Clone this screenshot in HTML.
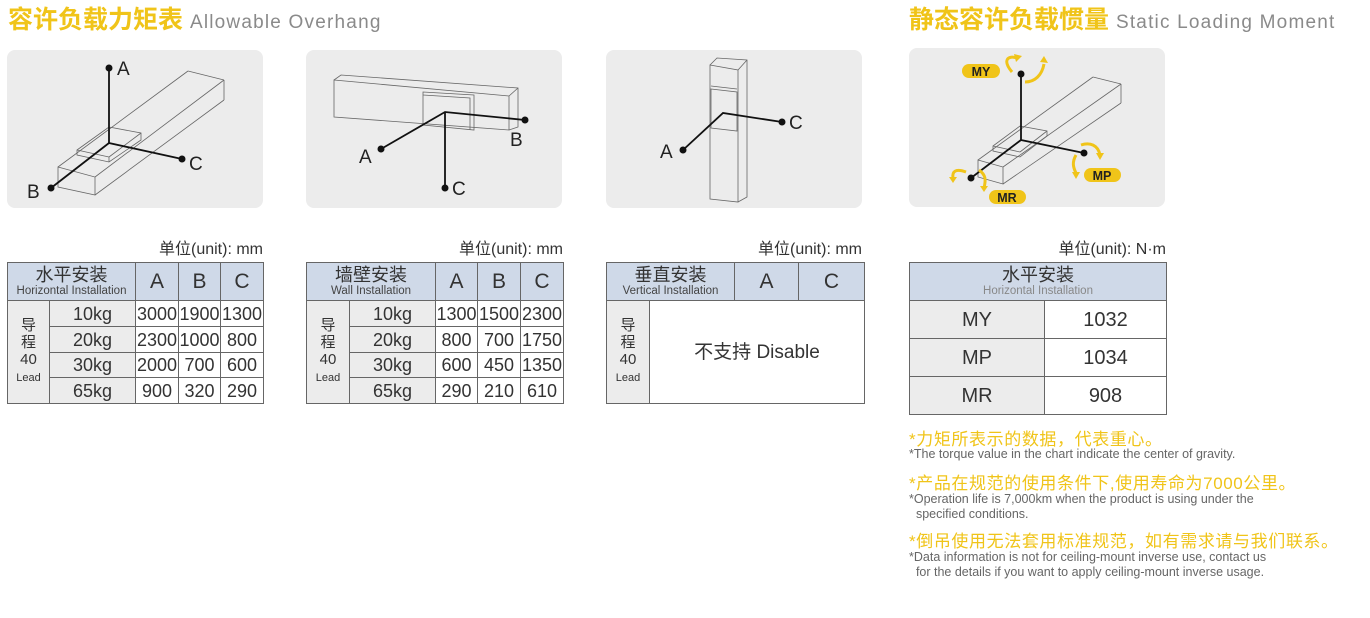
<!DOCTYPE html>
<html><head><meta charset="utf-8"><style>
body{margin:0;width:1370px;height:618px;background:#fff;position:relative;overflow:hidden;font-family:"Liberation Sans","Noto Sans CJK SC",sans-serif;color:#333}
.a{position:absolute;white-space:nowrap}
.t1{color:#f0c419;font-size:25px;font-weight:bold;top:0px}
.t2{color:#8a8a8a;font-size:19px;letter-spacing:1.2px}
.panel{position:absolute;background:#ececec;border-radius:8px}
table{position:absolute;border-collapse:collapse;table-layout:fixed}
td{border:1px solid #666;text-align:center;padding:0;font-size:18px;color:#333;line-height:1}
.h{background:#cfd9e8}
.g{background:#ececec}
.cn{font-size:18px;line-height:20px}
.en{font-size:11.5px;line-height:13px;color:#444}
.unit{font-size:16px;top:235px}
.y{color:#f0c419;font-size:17px;letter-spacing:0.6px}
.s{color:#666;font-size:12.5px;line-height:15px}
</style></head><body>
<div class="a t1" style="left:8px">容许负载力矩表 <span class="t2" style="font-weight:normal">Allowable Overhang</span></div>
<div class="a t1" style="left:909px">静态容许负载惯量 <span class="t2" style="font-weight:normal">Static Loading Moment</span></div>

<div class="panel" style="left:7px;top:50px;width:256px;height:158px"></div>
<div class="panel" style="left:306px;top:50px;width:256px;height:158px"></div>
<div class="panel" style="left:606px;top:50px;width:256px;height:158px"></div>
<div class="panel" style="left:909px;top:48px;width:256px;height:159px"></div>

<svg class="a" style="left:0;top:0" width="1370" height="230" viewBox="0 0 1370 230">
<g fill="none" stroke="#666" stroke-width="0.8">
<polygon points="58,167 95,177 95,195 58,187"/>
<line x1="58" y1="167" x2="188" y2="71"/><line x1="95" y1="177" x2="224" y2="80"/><line x1="95" y1="195" x2="224" y2="100"/>
<line x1="188" y1="71" x2="224" y2="80"/><line x1="224" y1="80" x2="224" y2="100"/>
<polygon points="77,150 109,127 141,133 141,140 109,162 77,155"/><line x1="77" y1="150" x2="109" y2="157"/><line x1="109" y1="157" x2="141" y2="133"/><line x1="109" y1="157" x2="109" y2="162"/>
<polygon points="334,80 509,96 509,130 334,117"/>
<polyline points="334,80 341,75 518,88 518,127 509,130"/><line x1="509" y1="96" x2="518" y2="88"/>
<polygon points="423,92 474,95 474,130 423,125"/><polyline points="423,95 470,98 470,130"/>
<polygon points="710,65 738,70 738,202 710,199"/>
<polyline points="710,65 717,58 747,60 747,197 738,202"/><line x1="738" y1="70" x2="747" y2="60"/>
<polygon points="711,89 737,92 737,131 711,128"/><line x1="711" y1="86" x2="737" y2="89"/>
<polygon points="978,160 1003,167 1003,184 978,177"/>
<line x1="978" y1="160" x2="1093" y2="77"/><line x1="1003" y1="167" x2="1121" y2="84"/><line x1="1003" y1="184" x2="1121" y2="103"/>
<line x1="1093" y1="77" x2="1121" y2="84"/><line x1="1121" y1="84" x2="1121" y2="103"/>
<polygon points="993,146 1020,126 1047,131 1047,136 1020,157 993,151"/><line x1="993" y1="146" x2="1020" y2="152"/><line x1="1020" y1="152" x2="1047" y2="131"/>
</g>
<g stroke="#111" stroke-width="1.8" fill="none">
<polyline points="109,68 109,143 182,159"/><line x1="109" y1="143" x2="51" y2="188"/>
<polyline points="381,149 445,112 525,120"/><line x1="445" y1="112" x2="445" y2="188"/>
<polyline points="683,150 723,113 782,122"/>
<polyline points="1021,74 1021,140 1084,153"/><line x1="1021" y1="140" x2="971" y2="178"/>
</g>
<g fill="#111">
<circle cx="109" cy="68" r="3.5"/><circle cx="182" cy="159" r="3.5"/><circle cx="51" cy="188" r="3.5"/>
<circle cx="381" cy="149" r="3.5"/><circle cx="525" cy="120" r="3.5"/><circle cx="445" cy="188" r="3.5"/>
<circle cx="683" cy="150" r="3.5"/><circle cx="782" cy="122" r="3.5"/>
<circle cx="1021" cy="74" r="3.5"/><circle cx="1084" cy="153" r="3.5"/><circle cx="971" cy="178" r="3.5"/>
</g>
<g font-family="Liberation Sans,sans-serif" font-size="19" fill="#222">
<text x="117" y="75">A</text><text x="189" y="170">C</text><text x="27" y="198">B</text>
<text x="359" y="163">A</text><text x="510" y="146">B</text><text x="452" y="195">C</text>
<text x="660" y="158">A</text><text x="789" y="129">C</text>
</g>
<g stroke="#f0c419" stroke-width="3" fill="none">
<path d="M1012,72 C1002,60 1008,55 1017,58"/><path d="M1025,82 C1035,82 1042,75 1044,64"/>
<path d="M1081,145 C1090,142 1098,145 1100,155"/><path d="M1076,155 C1072,162 1073,167 1076,173"/>
<path d="M966,172 C955,168 952,172 953,178"/><path d="M979,170 C986,175 986,180 984,188"/>
</g>
<g fill="#f0c419">
<polygon points="1014,54 1022,56 1016,62"/><polygon points="1040,62 1048,63 1044,56"/>
<polygon points="1096,153 1104,153 1100,160"/><polygon points="1072,172 1080,172 1076,179"/>
<polygon points="949,177 957,177 953,183"/><polygon points="980,186 988,186 984,192"/>
<rect x="962" y="64" width="38" height="14" rx="7"/><rect x="1084" y="168" width="37" height="14" rx="7"/><rect x="989" y="190" width="37" height="14" rx="7"/>
</g>
<g font-family="Liberation Sans,sans-serif" font-size="12.5" font-weight="bold" fill="#222" text-anchor="middle">
<text x="981" y="76">MY</text><text x="1102" y="180">MP</text><text x="1007" y="202">MR</text>
</g>
</svg>

<div class="a unit" style="right:1107px">单位(unit): mm</div>
<div class="a unit" style="right:807px">单位(unit): mm</div>
<div class="a unit" style="right:508px">单位(unit): mm</div>
<div class="a unit" style="right:204px">单位(unit): N·m</div>

<table style="left:7px;top:262px;width:257px">
<colgroup><col style="width:42px"><col style="width:86px"><col style="width:43px"><col style="width:42px"><col style="width:43px"></colgroup>
<tr style="height:38px"><td class="h" colspan="2"><div class="cn">水平安装</div><div class="en">Horizontal Installation</div></td><td class="h" style="font-size:21px">A</td><td class="h" style="font-size:21px">B</td><td class="h" style="font-size:21px">C</td></tr>
<tr style="height:26px"><td class="g" rowspan="4" style="font-size:15px;line-height:17px">导<br>程<br>40<br><span style="font-size:11px">Lead</span></td><td class="g">10kg</td><td>3000</td><td>1900</td><td>1300</td></tr>
<tr style="height:26px"><td class="g">20kg</td><td>2300</td><td>1000</td><td>800</td></tr>
<tr style="height:25px"><td class="g">30kg</td><td>2000</td><td>700</td><td>600</td></tr>
<tr style="height:26px"><td class="g">65kg</td><td>900</td><td>320</td><td>290</td></tr>
</table>

<table style="left:306px;top:262px;width:258px">
<colgroup><col style="width:43px"><col style="width:86px"><col style="width:42px"><col style="width:43px"><col style="width:43px"></colgroup>
<tr style="height:38px"><td class="h" colspan="2"><div class="cn">墙壁安装</div><div class="en">Wall Installation</div></td><td class="h" style="font-size:21px">A</td><td class="h" style="font-size:21px">B</td><td class="h" style="font-size:21px">C</td></tr>
<tr style="height:26px"><td class="g" rowspan="4" style="font-size:15px;line-height:17px">导<br>程<br>40<br><span style="font-size:11px">Lead</span></td><td class="g">10kg</td><td>1300</td><td>1500</td><td>2300</td></tr>
<tr style="height:26px"><td class="g">20kg</td><td>800</td><td>700</td><td>1750</td></tr>
<tr style="height:25px"><td class="g">30kg</td><td>600</td><td>450</td><td>1350</td></tr>
<tr style="height:26px"><td class="g">65kg</td><td>290</td><td>210</td><td>610</td></tr>
</table>

<table style="left:606px;top:262px;width:258px">
<colgroup><col style="width:43px"><col style="width:85px"><col style="width:64px"><col style="width:66px"></colgroup>
<tr style="height:38px"><td class="h" colspan="2"><div class="cn">垂直安装</div><div class="en">Vertical Installation</div></td><td class="h" style="font-size:21px">A</td><td class="h" style="font-size:21px">C</td></tr>
<tr style="height:103px"><td class="g" style="font-size:15px;line-height:17px">导<br>程<br>40<br><span style="font-size:11px">Lead</span></td><td colspan="3" style="font-size:19px">不支持 Disable</td></tr>
</table>

<table style="left:909px;top:262px;width:257px">
<colgroup><col style="width:135px"><col style="width:122px"></colgroup>
<tr style="height:38px"><td class="h" colspan="2"><div class="cn">水平安装</div><div class="en" style="color:#888">Horizontal Installation</div></td></tr>
<tr style="height:38px"><td class="g" style="font-size:20px">MY</td><td style="font-size:20px">1032</td></tr>
<tr style="height:38px"><td class="g" style="font-size:20px">MP</td><td style="font-size:20px">1034</td></tr>
<tr style="height:38px"><td class="g" style="font-size:20px">MR</td><td style="font-size:20px">908</td></tr>
</table>

<div class="a y" style="left:909px;top:425px">*力矩所表示的数据，代表重心。</div>
<div class="a s" style="left:909px;top:447px">*The torque value in the chart indicate the center of gravity.</div>
<div class="a y" style="left:909px;top:469px">*产品在规范的使用条件下,使用寿命为7000公里。</div>
<div class="a s" style="left:909px;top:492px">*Operation life is 7,000km when the product is using under the<br>&nbsp;&nbsp;specified conditions.</div>
<div class="a y" style="left:909px;top:527px">*倒吊使用无法套用标准规范，如有需求请与我们联系。</div>
<div class="a s" style="left:909px;top:550px">*Data information is not for ceiling-mount inverse use, contact us<br>&nbsp;&nbsp;for the details if you want to apply ceiling-mount inverse usage.</div>
</body></html>
